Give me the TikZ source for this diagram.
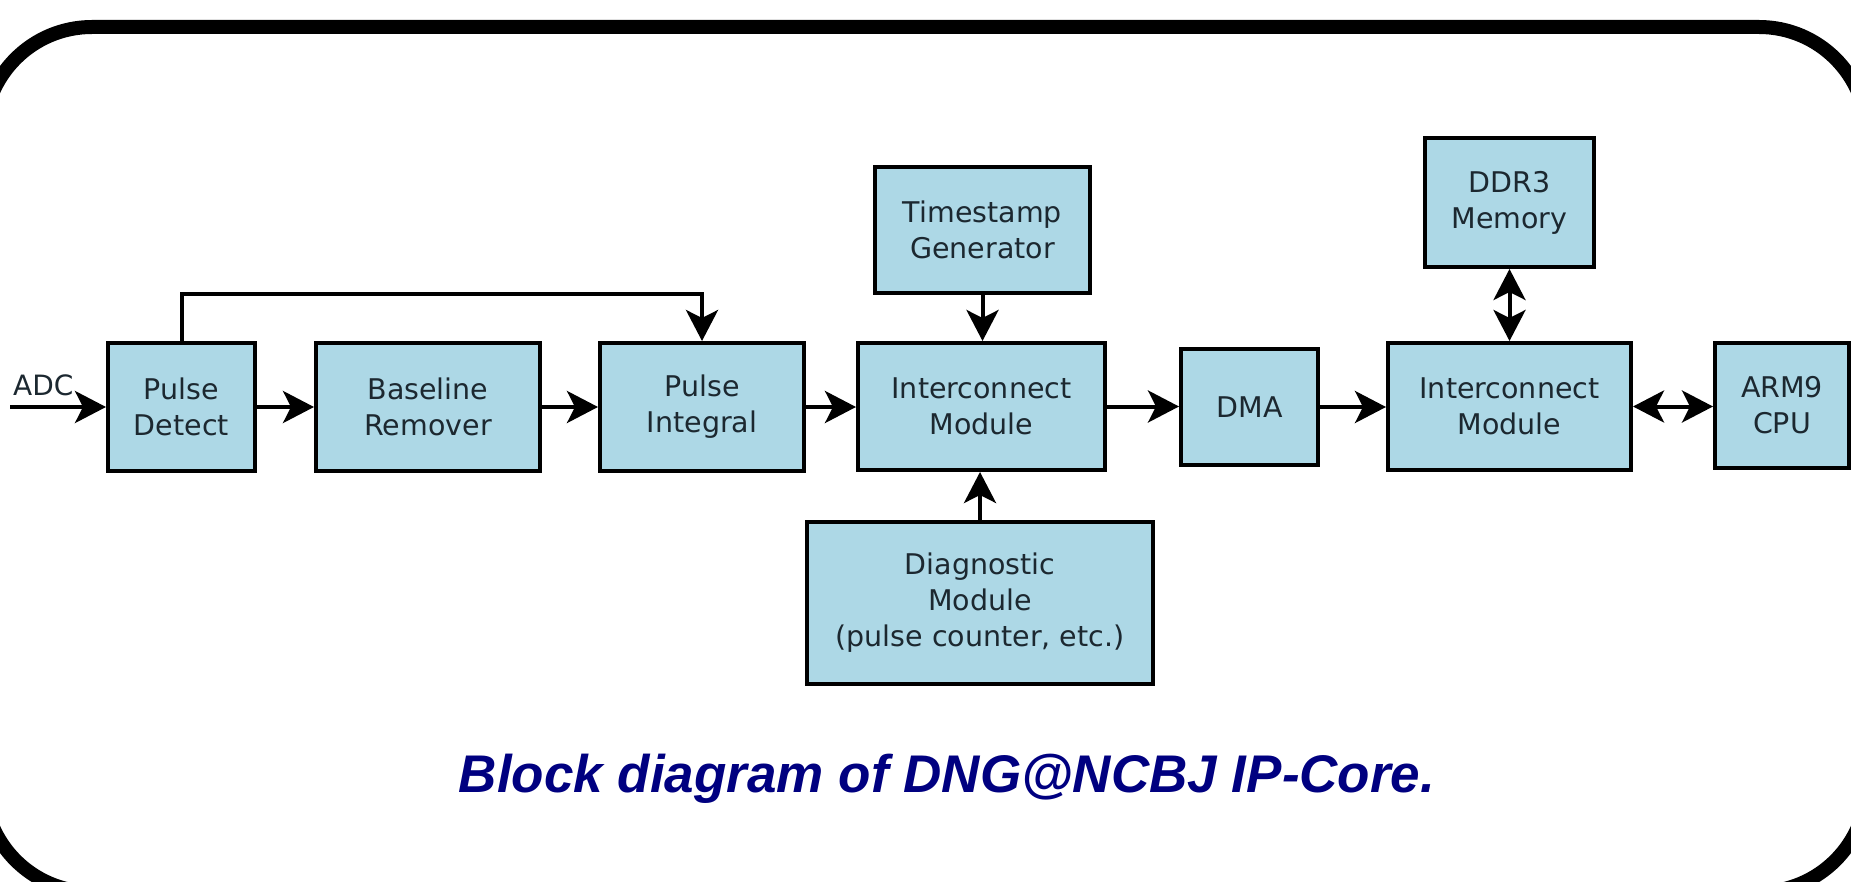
\documentclass[tikz,border=0pt]{standalone}
\usepackage{fontspec}
\setmainfont{DejaVu Sans}
\newfontfamily\titlefont{Liberation Sans}
\usetikzlibrary{arrows.meta}
\definecolor{boxfill}{RGB}{173,216,230}
\definecolor{boxtext}{RGB}{28,40,48}
\definecolor{titleblue}{RGB}{0,0,128}
\tikzset{
  block/.style={draw=black, line width=4pt, fill=boxfill, text=boxtext, align=center, inner sep=0pt, font=\fontsize{28.5}{36}\selectfont},
  arr/.style={line width=4pt, -{Stealth[length=31pt,width=32pt,inset=8pt]}},
  darr/.style={line width=4pt, {Stealth[length=31pt,width=32pt,inset=8pt]}-{Stealth[length=31pt,width=32pt,inset=8pt]}},
  frame/.style={line width=14pt, rounded corners=108pt},
  titletext/.style={text=titleblue, font=\titlefont\bfseries\itshape\fontsize{53}{60}\selectfont, inner sep=0pt},
  lbl/.style={text=boxtext, font=\fontsize{28}{36}\selectfont, inner sep=0pt}
}
\begin{document}
\begin{tikzpicture}[x=1pt,y=-1pt]
\useasboundingbox (0,0) rectangle (1851,882);
\clip (0,0) rectangle (1851,882);
\fill[white] (0,0) rectangle (1851,882);
\draw[frame] (-16,27) rectangle (1867,892);

\node[block, minimum width=147pt, minimum height=128pt] (pd) at (181.5,407) {Pulse\\Detect};
\node[block, minimum width=224pt, minimum height=128pt] (br) at (428,407) {Baseline\\Remover};
\node[block, minimum width=204pt, minimum height=128pt] (pi) at (702,407) {Pulse\\Integral};
\node[block, minimum width=247pt, minimum height=127pt] (ic1) at (981.5,406.5) {Interconnect\\Module};
\node[block, minimum width=215pt, minimum height=126pt] (ts) at (982.5,230) {Timestamp\\Generator};
\node[block, minimum width=346pt, minimum height=162pt] (dm) at (980,603) {Diagnostic\\Module\\(pulse counter, etc.)};
\node[block, minimum width=137pt, minimum height=116pt] (dma) at (1249.5,407) {DMA};
\node[block, minimum width=243pt, minimum height=127pt] (ic2) at (1509.5,406.5) {Interconnect\\Module};
\node[block, minimum width=169pt, minimum height=129pt] (ddr) at (1509.5,202.5) {DDR3\\Memory};
\node[block, minimum width=134pt, minimum height=125pt] (arm) at (1782,405.5) {ARM9\\CPU};

\coordinate (adc) at (10,407);
\node[lbl, anchor=base west] (adclbl) at (13,395) {ADC};
\coordinate (fb) at (0,294);

\draw[arr] (adc) -- (pd.west);
\draw[arr] (pd.east) -- (br.west);
\draw[arr] (br.east) -- (pi.west);
\draw[arr] (pi.east) -- (pi.east -| ic1.west);
\draw[arr] (pd.north) -- (pd.north |- fb) -| (pi.north);
\draw[arr] (ts.south) -- (ts.south |- ic1.north);
\draw[arr] (dm.north) -- (dm.north |- ic1.south);
\draw[arr] (ic1.east) -- (ic1.east -| dma.west);
\draw[arr] (dma.east) -- (dma.east -| ic2.west);
\draw[darr] (ddr.south) -- (ic2.north);
\draw[darr] (ic2.east) -- (ic2.east -| arm.west);

\node[titletext, anchor=base] (title) at (947,792) {Block diagram of DNG@NCBJ IP-Core.};
\end{tikzpicture}
\end{document}
